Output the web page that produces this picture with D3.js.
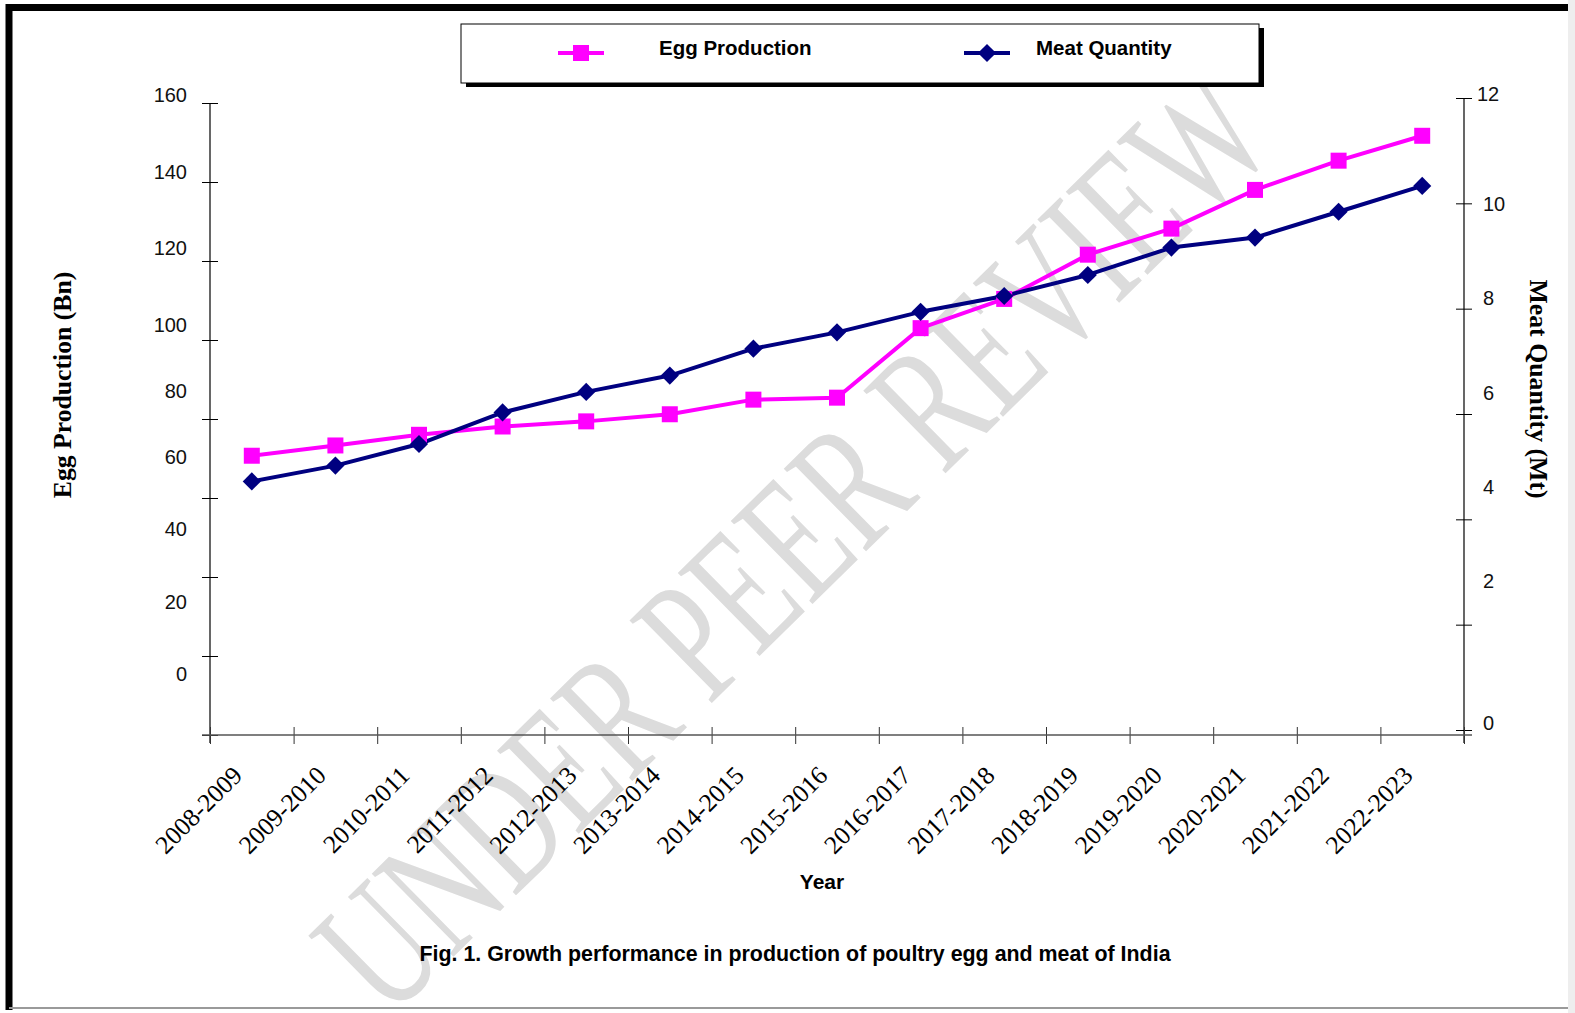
<!DOCTYPE html>
<html>
<head>
<meta charset="utf-8">
<script src="https://cdn.jsdelivr.net/npm/d3@7"></script>
<style>
  html, body { margin: 0; padding: 0; background: #fff; }
  svg { display: block; }
</style>
</head>
<body>
<svg id="chart" width="1575" height="1013"></svg>
<script>
// Poultry production in India, by financial year
const years = ["2008-2009", "2009-2010", "2010-2011", "2011-2012", "2012-2013",
  "2013-2014", "2014-2015", "2015-2016", "2016-2017", "2017-2018",
  "2018-2019", "2019-2020", "2020-2021", "2021-2022", "2022-2023"];
const eggProduction = [70.7, 73.3, 76.0, 78.1, 79.4, 81.2, 84.9, 85.4,
  103.0, 110.4, 121.6, 128.2, 138.0, 145.4, 151.7];          // billion eggs
const meatQuantity = [4.72, 5.02, 5.43, 6.03, 6.42, 6.73, 7.24, 7.55,
  7.94, 8.24, 8.64, 9.16, 9.35, 9.84, 10.33];                 // million tonnes
const eggTicks = [0, 20, 40, 60, 80, 100, 120, 140, 160];
const meatTicks = [0, 2, 4, 6, 8, 10, 12];
const seriesNames = ["Egg Production", "Meat Quantity"];

const EGG = "#ff00ff", MEAT = "#000080";
const SANS = "'Liberation Sans', Arial, sans-serif";
const SERIF = "'Liberation Serif', 'Times New Roman', serif";

const svg = d3.select("#chart");

// page frame
svg.append("rect").attr("x", 1568).attr("y", 0).attr("width", 7).attr("height", 1013).attr("fill", "#eeeeee");
svg.append("path").attr("d", "M9,1010V7.5H1568").attr("fill", "none").attr("stroke", "#000").attr("stroke-width", 7);
svg.append("line").attr("x1", 9).attr("x2", 1568).attr("y1", 1008).attr("y2", 1008)
  .attr("stroke", "#9a9a9a").attr("stroke-width", 2);

// watermark
svg.append("text")
  .attr("transform", "translate(792,540) rotate(-44.5)")
  .attr("text-anchor", "middle").attr("dominant-baseline", "central")
  .attr("font-family", SERIF).attr("font-size", 178)
  .attr("textLength", 1250).attr("lengthAdjust", "spacingAndGlyphs")
  .attr("fill", "#dcdcdc")
  .text("UNDER PEER REVIEW");

// scales
const x = d3.scaleBand().domain(years).range([210, 1464]);
const xEdge = d3.scaleLinear().domain([0, years.length]).range(x.range());
const yEgg = d3.scaleLinear().domain([0, 160]).range([735, 103]);
const yMeat = d3.scaleLinear().domain([0, 12]).range([730, 98]);
// vertical placement of the value labels beside each axis
const eggLabelY = d3.scaleLinear().domain([0, 60, 100, 160]).range([674, 457, 325, 95]);
const meatLabelY = d3.scaleLinear().domain([0, 2, 10, 12]).range([723, 581, 204, 94]);
const cx = d => x(d) + x.bandwidth() / 2;

// crossing tick marks
function crossTicks(g, len) {
  g.select(".domain").remove();
  g.selectAll(".tick line").attr("x1", -len).attr("x2", len).attr("stroke", "#000");
}

// left axis
const gl = svg.append("g").attr("transform", "translate(210,0)")
  .call(d3.axisLeft(yEgg).tickValues(eggTicks).tickFormat("").tickSizeOuter(0))
  .call(g => crossTicks(g, 8));
gl.append("line").attr("y1", yEgg(160)).attr("y2", 743).attr("stroke", "#000").attr("stroke-width", 1.2);
gl.selectAll(".lbl").data(eggTicks).join("text")
  .attr("x", -23).attr("y", d => eggLabelY(d))
  .attr("text-anchor", "end").attr("dominant-baseline", "central")
  .attr("font-family", SANS).attr("font-size", 20).attr("fill", "#111")
  .text(d => d);

// right axis
const gr = svg.append("g").attr("transform", "translate(1464,0)")
  .call(d3.axisRight(yMeat).tickValues(meatTicks).tickFormat("").tickSizeOuter(0))
  .call(g => crossTicks(g, 8));
gr.append("line").attr("y1", yMeat(12)).attr("y2", 743).attr("stroke", "#000").attr("stroke-width", 1.2);
gr.selectAll(".lbl").data(meatTicks).join("text")
  .attr("x", d => d === 12 ? 13 : 19).attr("y", d => meatLabelY(d))
  .attr("text-anchor", "start").attr("dominant-baseline", "central")
  .attr("font-family", SANS).attr("font-size", 20).attr("fill", "#111")
  .text(d => d);

// bottom axis
const gb = svg.append("g").attr("transform", "translate(0,735)")
  .call(d3.axisBottom(xEdge).tickValues(d3.range(years.length + 1)).tickFormat("").tickSizeOuter(0));
gb.select(".domain").remove();
gb.selectAll(".tick line").attr("y1", -8).attr("y2", 9).attr("stroke", "#333");
gb.append("line").attr("x1", 202).attr("x2", 1472).attr("stroke", "#555").attr("stroke-width", 1.5);
gb.selectAll(".cat").data(years).join("text")
  .attr("transform", d => `translate(${cx(d) - 8},42) rotate(-45)`)
  .attr("text-anchor", "end")
  .attr("font-family", SERIF).attr("font-size", 25.5).attr("fill", "#000")
  .text(d => d);

// axis titles
svg.append("text").attr("transform", "translate(62,385) rotate(-90)")
  .attr("text-anchor", "middle").attr("dominant-baseline", "central")
  .attr("font-family", SERIF).attr("font-weight", "bold").attr("font-size", 25.7)
  .text("Egg Production (Bn)");
svg.append("text").attr("transform", "translate(1538,389) rotate(90)")
  .attr("text-anchor", "middle").attr("dominant-baseline", "central")
  .attr("font-family", SERIF).attr("font-weight", "bold").attr("font-size", 25.8)
  .text("Meat Quantity (Mt)");
svg.append("text").attr("x", 822).attr("y", 889).attr("text-anchor", "middle")
  .attr("font-family", SANS).attr("font-weight", "bold").attr("font-size", 21)
  .text("Year");

// series
const eggData = years.map((d, i) => [cx(d), yEgg(eggProduction[i])]);
const meatData = years.map((d, i) => [cx(d), yMeat(meatQuantity[i])]);
const line = d3.line();
const square = d3.symbol(d3.symbolSquare, 256);
const diamond = d3.symbol(d3.symbolSquare, 165);

svg.append("path").attr("d", line(eggData)).attr("fill", "none")
  .attr("stroke", EGG).attr("stroke-width", 4).attr("stroke-linejoin", "round");
svg.append("path").attr("d", line(meatData)).attr("fill", "none")
  .attr("stroke", MEAT).attr("stroke-width", 4).attr("stroke-linejoin", "round");
svg.append("g").selectAll("path").data(eggData).join("path")
  .attr("transform", d => `translate(${d[0]},${d[1]})`).attr("d", square).attr("fill", EGG);
svg.append("g").selectAll("path").data(meatData).join("path")
  .attr("transform", d => `translate(${d[0]},${d[1]}) rotate(45)`).attr("d", diamond).attr("fill", MEAT);

// legend
svg.append("rect").attr("x", 466).attr("y", 28).attr("width", 798).attr("height", 59).attr("fill", "#000");
svg.append("rect").attr("x", 461).attr("y", 24).attr("width", 798).attr("height", 59)
  .attr("fill", "#fff").attr("stroke", "#000").attr("stroke-width", 1);
const legendItems = [
  { name: seriesNames[0], color: EGG, sym: square, rot: 0, x0: 558 },
  { name: seriesNames[1], color: MEAT, sym: diamond, rot: 45, x0: 964 }
];
const li = svg.append("g").selectAll("g").data(legendItems).join("g")
  .attr("transform", d => `translate(${d.x0},53)`);
li.append("line").attr("x1", 0).attr("x2", 46).attr("stroke", d => d.color).attr("stroke-width", 4);
li.append("path").attr("transform", d => `translate(23,0) rotate(${d.rot})`)
  .attr("d", d => d.sym()).attr("fill", d => d.color);
li.append("text").attr("x", d => d.name === seriesNames[0] ? 101 : 72).attr("y", 2)
  .attr("font-family", SANS).attr("font-weight", "bold").attr("font-size", 20.5)
  .text(d => d.name);

// caption
svg.append("text").attr("x", 795).attr("y", 961).attr("text-anchor", "middle")
  .attr("font-family", SANS).attr("font-weight", "bold").attr("font-size", 21.4)
  .text("Fig. 1. Growth performance in production of poultry egg and meat of India");
</script>
</body>
</html>
